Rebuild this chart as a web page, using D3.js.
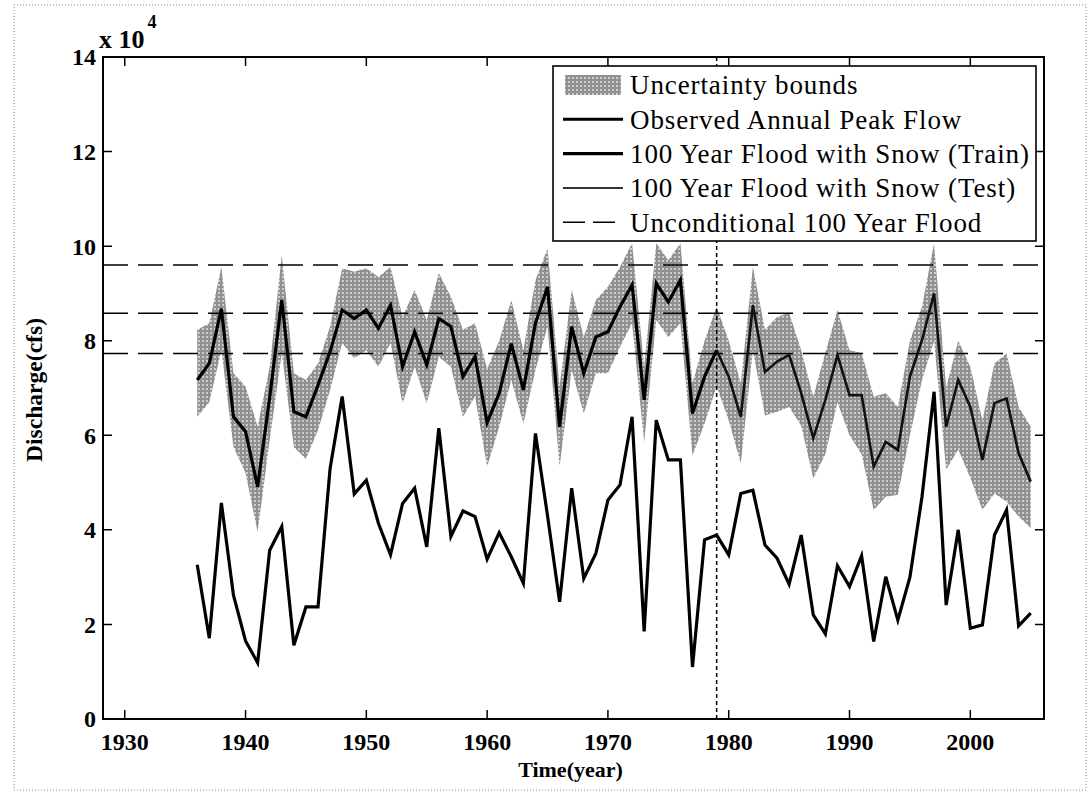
<!DOCTYPE html>
<html>
<head>
<meta charset="utf-8">
<script src="https://cdn.jsdelivr.net/npm/d3@7"></script>
<style>
  body { margin: 0; background: #fff; }
  text { font-family: "Liberation Serif", "Times New Roman", serif; }
</style>
</head>
<body>
<script>
// data, discharge in units of 1e4 cfs
const years = d3.range(1936, 2006);
const observed = [3.26, 1.71, 4.57, 2.62, 1.65, 1.19, 3.57, 4.07, 1.56, 2.37,
  2.37, 5.3, 6.82, 4.76, 5.05, 4.14, 3.47, 4.56, 4.88, 3.64,
  6.15, 3.86, 4.40, 4.28, 3.38, 3.94, 3.43, 2.87, 6.04, 4.3,
  2.48, 4.88, 2.97, 3.5, 4.63, 4.95, 6.39, 1.85, 6.32, 5.48,
  5.48, 1.1, 3.79, 3.89, 3.47, 4.77, 4.84, 3.68, 3.40, 2.85,
  3.89, 2.2, 1.80, 3.24, 2.8, 3.45, 1.64, 3.01, 2.09, 3.0,
  4.7, 6.92, 2.41, 4.0, 1.92, 1.99, 3.89, 4.42, 1.97, 2.24];
const flood = [7.17, 7.52, 8.68, 6.39, 6.08, 4.91, 6.8, 8.86, 6.5, 6.39,
  7.06, 7.77, 8.65, 8.47, 8.65, 8.26, 8.75, 7.45, 8.19, 7.49,
  8.47, 8.30, 7.24, 7.66, 6.27, 6.89, 7.94, 6.96, 8.37, 9.14,
  6.18, 8.30, 7.31, 8.08, 8.19, 8.72, 9.18, 6.75, 9.21, 8.82,
  9.28, 6.46, 7.24, 7.80, 7.24, 6.39, 8.75, 7.34, 7.56, 7.70,
  6.89, 5.94, 6.75, 7.70, 6.85, 6.85, 5.34, 5.86, 5.69, 7.24,
  8.01, 9.0, 6.18, 7.17, 6.60, 5.48, 6.68, 6.78, 5.62, 5.02];
const upper = [8.23, 8.37, 9.56, 7.31, 7.03, 6.18, 7.45, 9.81, 7.31, 7.17,
  7.52, 8.3, 9.53, 9.46, 9.53, 9.35, 9.56, 8.5, 9.07, 8.44,
  9.43, 8.93, 8.23, 8.37, 7.4, 8.0, 8.86, 7.8, 9.28, 9.95,
  7.03, 9.07, 8.08, 8.86, 9.14, 9.56, 10.06, 7.45, 10.06, 9.7,
  10.06, 7.1, 8.0, 8.72, 8.0, 7.1, 9.56, 8.23, 8.5, 8.59,
  7.8, 6.82, 7.74, 8.65, 7.8, 7.74, 6.82, 6.89, 6.6, 8.0,
  8.72, 10.06, 7.0, 8.0, 7.45, 6.32, 7.52, 7.73, 6.6, 6.18];
const lower = [6.39, 6.7, 7.8, 5.76, 5.2, 3.96, 5.9, 7.74, 5.75, 5.5,
  6.11, 6.96, 7.95, 7.63, 7.8, 7.45, 7.95, 6.68, 7.45, 6.68,
  7.66, 7.45, 6.39, 6.82, 5.34, 6.18, 7.17, 6.25, 7.38, 8.3,
  5.34, 7.38, 6.46, 7.31, 7.31, 7.87, 8.37, 5.86, 8.44, 8.08,
  8.37, 5.58, 6.25, 7.03, 6.32, 5.41, 7.8, 6.42, 6.5, 6.6,
  6.2, 5.09, 5.6, 6.7, 6.0, 5.6, 4.42, 4.7, 4.74, 6.0,
  7.17, 8.0, 5.27, 5.7, 5.1, 4.42, 4.77, 4.6, 4.28, 4.04];
const unconditional = [9.6, 8.58, 7.73];
const splitYear = 1979;
const xTicks = [1930, 1940, 1950, 1960, 1970, 1980, 1990, 2000];
const yTicks = [0, 2, 4, 6, 8, 10, 12, 14];
const legendLabels = ['Uncertainty bounds', 'Observed Annual Peak Flow',
  '100 Year Flood with Snow (Train)', '100 Year Flood with Snow (Test)',
  'Unconditional 100 Year Flood'];

const width = 1092;
const height = 795;
const margin = { top: 57, right: 48, bottom: 76, left: 103 };
const iw = width - margin.left - margin.right;
const ih = height - margin.top - margin.bottom;

const svg = d3.select('body').append('svg')
  .attr('width', width)
  .attr('height', height);

// stippled fill like the scanned print
const defs = svg.append('defs');
const pat = defs.append('pattern')
  .attr('id', 'stipple')
  .attr('patternUnits', 'userSpaceOnUse')
  .attr('width', 4).attr('height', 4);
pat.append('rect').attr('width', 4).attr('height', 4).attr('fill', '#cdcdcd');
pat.append('circle').attr('cx', 2).attr('cy', 2).attr('r', 1.3)
  .attr('fill', 'none').attr('stroke', '#4a4a4a').attr('stroke-width', 0.75);

// dotted frame round the figure
svg.append('rect')
  .attr('x', 14).attr('y', 5).attr('width', 1072).attr('height', 785)
  .attr('fill', 'none').attr('stroke', '#888').attr('stroke-width', 1)
  .attr('stroke-dasharray', '1,2');

const g = svg.append('g')
  .attr('transform', `translate(${margin.left},${margin.top})`);

const x = d3.scaleLinear().domain([1928.2, 2006.1]).range([0, iw]);
const y = d3.scaleLinear().domain([0, 14]).range([ih, 0]);

// uncertainty band
const area = d3.area()
  .x((d, i) => x(years[i]))
  .y0((d, i) => y(lower[i]))
  .y1((d, i) => y(upper[i]));
g.append('path').datum(upper)
  .attr('d', area)
  .attr('fill', 'url(#stipple)');

// unconditional 100 year flood
g.selectAll('.uncond').data(unconditional).enter().append('line')
  .attr('class', 'uncond')
  .attr('x1', 0).attr('x2', iw)
  .attr('y1', d => y(d)).attr('y2', d => y(d))
  .attr('stroke', '#000').attr('stroke-width', 1.6)
  .attr('stroke-dasharray', '25,10');

// train / test split
g.append('line')
  .attr('x1', x(splitYear)).attr('x2', x(splitYear))
  .attr('y1', 0).attr('y2', ih)
  .attr('stroke', '#000').attr('stroke-width', 1.5)
  .attr('stroke-dasharray', '4,3');

const line = d3.line().x(d => x(d[0])).y(d => y(d[1]));
const floodPts = years.map((yr, i) => [yr, flood[i]]);
const trainPts = floodPts.filter(d => d[0] <= splitYear);
const testPts = floodPts.filter(d => d[0] >= splitYear);

g.append('path').datum(years.map((yr, i) => [yr, observed[i]]))
  .attr('d', line).attr('fill', 'none')
  .attr('stroke', '#000').attr('stroke-width', 3.2);
g.append('path').datum(trainPts)
  .attr('d', line).attr('fill', 'none')
  .attr('stroke', '#000').attr('stroke-width', 3.2);
g.append('path').datum(testPts)
  .attr('d', line).attr('fill', 'none')
  .attr('stroke', '#111').attr('stroke-width', 2.6);

// axes box with inward ticks (matlab look)
const tickLen = 9;
g.append('rect').attr('width', iw).attr('height', ih)
  .attr('fill', 'none').attr('stroke', '#000').attr('stroke-width', 2);

g.selectAll('.xt').data(xTicks).enter().append('path')
  .attr('d', d => `M${x(d)},${ih}v${-tickLen}M${x(d)},0v${tickLen}`)
  .attr('stroke', '#000').attr('stroke-width', 1.5);
g.selectAll('.yt').data(yTicks).enter().append('path')
  .attr('d', d => `M0,${y(d)}h${tickLen}M${iw},${y(d)}h${-tickLen}`)
  .attr('stroke', '#000').attr('stroke-width', 1.5);

g.selectAll('.xl').data(xTicks).enter().append('text')
  .attr('x', d => x(d)).attr('y', ih + 31)
  .attr('text-anchor', 'middle')
  .attr('font-size', 24).attr('font-weight', 'bold')
  .text(d => d);
g.selectAll('.yl').data(yTicks).enter().append('text')
  .attr('x', -7).attr('y', d => y(d)).attr('dy', '0.35em')
  .attr('text-anchor', 'end')
  .attr('font-size', 24).attr('font-weight', 'bold')
  .text(d => d);

// exponent
const ex = g.append('text').attr('x', -4).attr('y', -9)
  .attr('font-size', 26).attr('font-weight', 'bold');
ex.append('tspan').text('x 10');
ex.append('tspan').attr('dy', -20).attr('dx', 3).attr('font-size', 18).text('4');

g.append('text')
  .attr('x', iw / 2 - 3).attr('y', ih + 58)
  .attr('text-anchor', 'middle')
  .attr('font-size', 22).attr('font-weight', 'bold')
  .text('Time(year)');
g.append('text')
  .attr('transform', `translate(${-61},${ih / 2 + 2}) rotate(-90)`)
  .attr('text-anchor', 'middle')
  .attr('font-size', 23).attr('font-weight', 'bold')
  .attr('textLength', 144).attr('lengthAdjust', 'spacingAndGlyphs')
  .text('Discharge(cfs)');

// legend
const lg = svg.append('g').attr('transform', 'translate(553,66)');
lg.append('rect').attr('width', 483).attr('height', 175)
  .attr('fill', '#fff').attr('stroke', '#000').attr('stroke-width', 1.6);
const rowY = i => 19 + i * 34.3;
lg.append('rect').attr('x', 12).attr('y', rowY(0) - 10).attr('width', 56).attr('height', 20)
  .attr('fill', 'url(#stipple)');
const legendStyles = [null,
  { w: 3, dash: null, c: '#000' },
  { w: 3.2, dash: null, c: '#000' },
  { w: 2, dash: null, c: '#333' },
  { w: 1.6, dash: '22,8', c: '#000' }];
legendStyles.forEach((s, i) => {
  if (!s) return;
  lg.append('line').attr('x1', 10).attr('x2', 70)
    .attr('y1', rowY(i)).attr('y2', rowY(i))
    .attr('stroke', s.c).attr('stroke-width', s.w)
    .attr('stroke-dasharray', s.dash);
});
lg.selectAll('.lt').data(legendLabels).enter().append('text')
  .attr('x', 77).attr('y', (d, i) => rowY(i)).attr('dy', '0.35em')
  .attr('font-size', 27).attr('letter-spacing', 0.9)
  .text(d => d);
</script>
</body>
</html>
